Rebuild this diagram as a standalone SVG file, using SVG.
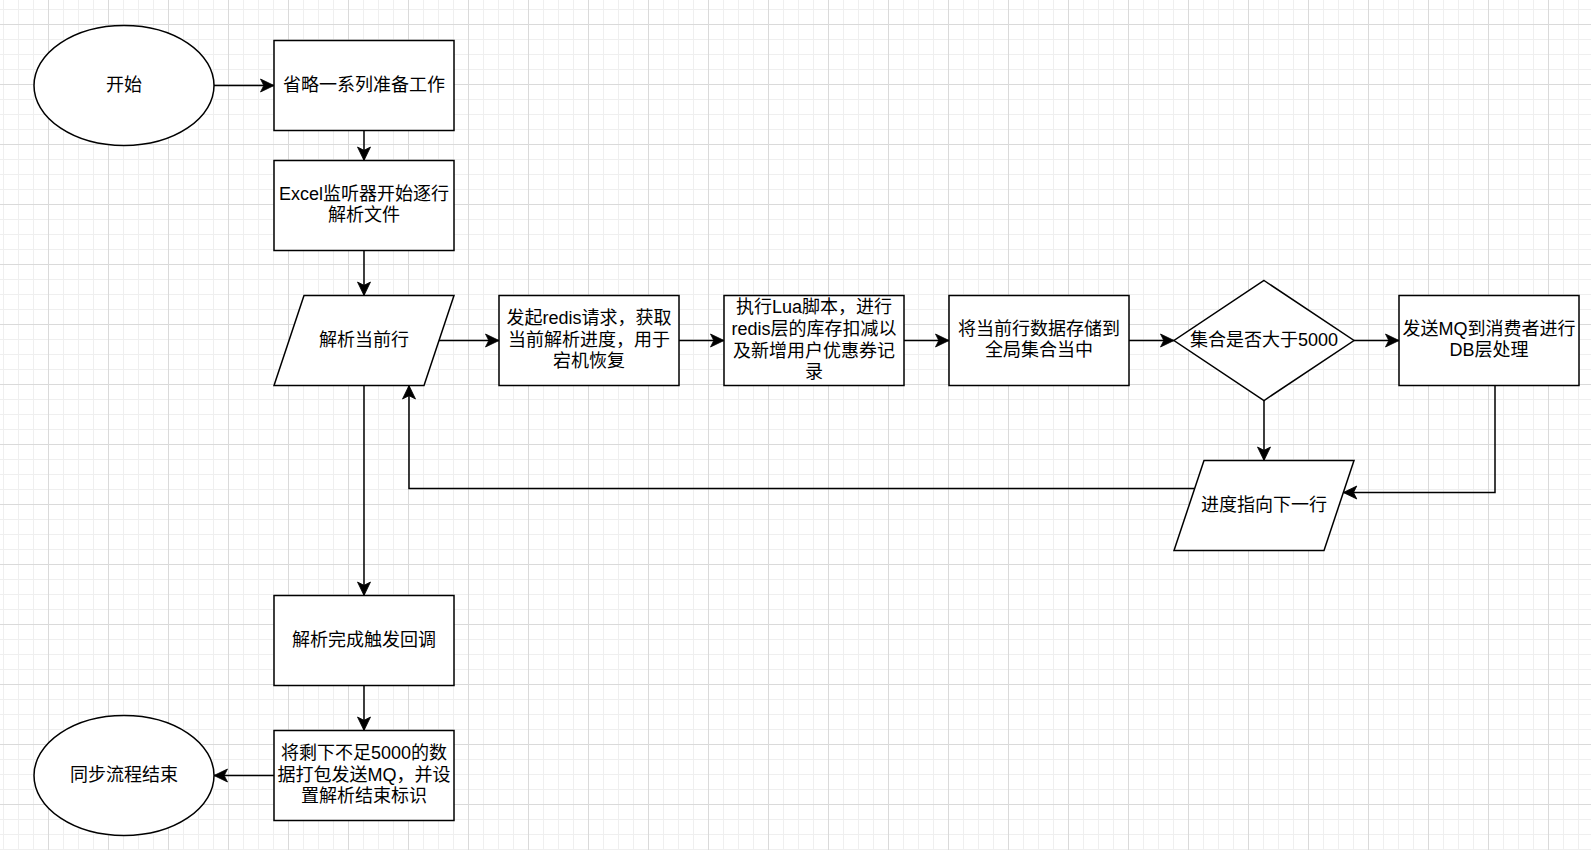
<svg xmlns="http://www.w3.org/2000/svg" width="1591" height="850" viewBox="0 0 1591 850">
<style>
.n{fill:#fff;stroke:#000;stroke-width:1.5}
.c{fill:none;stroke:#000;stroke-width:1.5}
.t{font-family:"Liberation Sans","Noto Sans CJK SC",sans-serif;font-size:18px;fill:#000;text-anchor:middle;dominant-baseline:central}
</style>
<defs>
<pattern id="gmin" patternUnits="userSpaceOnUse" x="3" y="9" width="15" height="15">
<path d="M0,0.5H15M0.5,0V15" fill="none" stroke="#efefef" stroke-width="1"/>
</pattern>
<pattern id="gmaj" patternUnits="userSpaceOnUse" x="48" y="24" width="60" height="60">
<path d="M0,0.5H60M0.5,0V60" fill="none" stroke="#dadada" stroke-width="1"/>
</pattern>
<marker id="arr" viewBox="0 0 14 14" markerWidth="14" markerHeight="14" refX="14" refY="7" orient="auto" markerUnits="userSpaceOnUse" overflow="visible">
<path d="M14,7L0.5,0.5L3.8,7L0.5,13.5Z" fill="#000" stroke="#000" stroke-width="0.8" stroke-linejoin="miter"/>
</marker>
</defs>
<rect width="1591" height="850" fill="#fff"/>
<rect width="1591" height="850" fill="url(#gmin)"/>
<rect width="1591" height="850" fill="url(#gmaj)"/>

<g id="connectors">
<path class="c" d="M214,85.5H274" marker-end="url(#arr)"/>
<path class="c" d="M364,130.5V160.5" marker-end="url(#arr)"/>
<path class="c" d="M364,250.5V295.5" marker-end="url(#arr)"/>
<path class="c" d="M439,340.5H499" marker-end="url(#arr)"/>
<path class="c" d="M679,340.5H724" marker-end="url(#arr)"/>
<path class="c" d="M904,340.5H949" marker-end="url(#arr)"/>
<path class="c" d="M1129,340.5H1174" marker-end="url(#arr)"/>
<path class="c" d="M1354,340.5H1399" marker-end="url(#arr)"/>
<path class="c" d="M1264,400.5V460.5" marker-end="url(#arr)"/>
<path class="c" d="M1495,385.5V492.5H1343.3" marker-end="url(#arr)"/>
<path class="c" d="M1194.7,488.5H409V385.5" marker-end="url(#arr)"/>
<path class="c" d="M364,385.5V595.5" marker-end="url(#arr)"/>
<path class="c" d="M364,685.5V730.5" marker-end="url(#arr)"/>
<path class="c" d="M274,775.5H214" marker-end="url(#arr)"/>
</g>

<g id="start">
<ellipse class="n" cx="124" cy="85.5" rx="90" ry="60"/>
<text class="t" x="124" y="84.5">开始</text>
</g>
<g id="prepare">
<rect class="n" x="274" y="40.5" width="180" height="90"/>
<text class="t" x="364" y="84.5">省略一系列准备工作</text>
</g>
<g id="excel">
<rect class="n" x="274" y="160.5" width="180" height="90"/>
<text class="t"><tspan x="364" y="193.7">Excel监听器开始逐行</tspan><tspan x="364" y="215.3">解析文件</tspan></text>
</g>
<g id="parseRow">
<path class="n" d="M304,295.5H454L424,385.5H274Z"/>
<text class="t" x="364" y="339.5">解析当前行</text>
</g>
<g id="redisReq">
<rect class="n" x="499" y="295.5" width="180" height="90"/>
<text class="t"><tspan x="589" y="317.9">发起redis请求，获取</tspan><tspan x="589" y="339.5">当前解析进度，用于</tspan><tspan x="589" y="361.1">宕机恢复</tspan></text>
</g>
<g id="lua">
<rect class="n" x="724" y="295.5" width="180" height="90"/>
<text class="t"><tspan x="814" y="307.3">执行Lua脚本，进行</tspan><tspan x="814" y="328.9">redis层的库存扣减以</tspan><tspan x="814" y="350.5">及新增用户优惠券记</tspan><tspan x="814" y="372.1">录</tspan></text>
</g>
<g id="store">
<rect class="n" x="949" y="295.5" width="180" height="90"/>
<text class="t"><tspan x="1039" y="328.7">将当前行数据存储到</tspan><tspan x="1039" y="350.3">全局集合当中</tspan></text>
</g>
<g id="decision">
<path class="n" d="M1264,280.5L1354,340.5L1264,400.5L1174,340.5Z"/>
<text class="t" x="1264" y="339.5">集合是否大于5000</text>
</g>
<g id="sendMQ">
<rect class="n" x="1399" y="295.5" width="180" height="90"/>
<text class="t"><tspan x="1489" y="328.7">发送MQ到消费者进行</tspan><tspan x="1489" y="350.3">DB层处理</tspan></text>
</g>
<g id="nextRow">
<path class="n" d="M1204,460.5H1354L1324,550.5H1174Z"/>
<text class="t" x="1264" y="504.5">进度指向下一行</text>
</g>
<g id="callback">
<rect class="n" x="274" y="595.5" width="180" height="90"/>
<text class="t" x="364" y="639.5">解析完成触发回调</text>
</g>
<g id="remaining">
<rect class="n" x="274" y="730.5" width="180" height="90"/>
<text class="t"><tspan x="364" y="752.9">将剩下不足5000的数</tspan><tspan x="364" y="774.5">据打包发送MQ，并设</tspan><tspan x="364" y="796.1">置解析结束标识</tspan></text>
</g>
<g id="end">
<ellipse class="n" cx="124" cy="775.5" rx="90" ry="60"/>
<text class="t" x="124" y="774.5">同步流程结束</text>
</g>
</svg>
